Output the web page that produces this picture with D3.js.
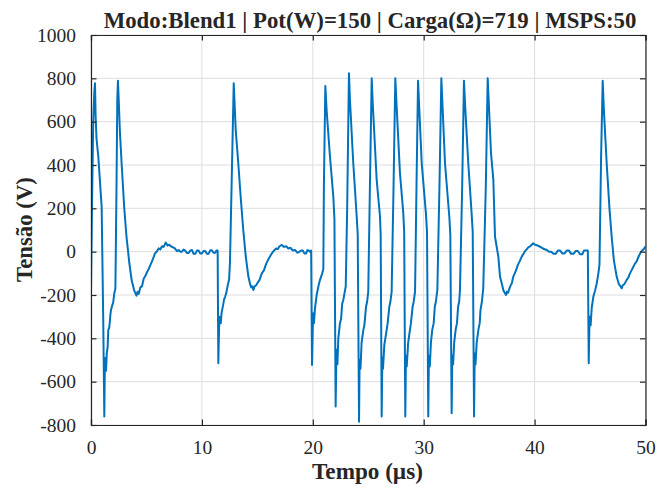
<!DOCTYPE html>
<html><head><meta charset="utf-8">
<script src="https://cdn.jsdelivr.net/npm/d3@7"></script>
<style>
html,body{margin:0;padding:0;background:#fff;}
svg{display:block;}
svg text{font-family:"Liberation Serif","Times New Roman",serif !important;fill:#262626;}
</style>
</head><body>
<svg id="c" width="672" height="489"></svg>
<script>
const titleText = "Modo:Blend1 | Pot(W)=150 | Carga(Ω)=719 | MSPS:50";
const xLabelText = "Tempo (µs)";
const yLabelText = "Tensão (V)";
const xTicks = [0, 10, 20, 30, 40, 50];
const yTicks = [-800, -600, -400, -200, 0, 200, 400, 600, 800, 1000];

const timeUs = [
  0, 0.1, 0.2, 0.3, 0.36, 0.42, 0.5, 0.66, 0.8, 0.96, 1.1, 1.2, 1.25, 1.3, 1.36, 1.42, 1.5, 1.56, 1.65, 1.75, 1.8, 1.9, 2.0, 2.1, 2.2, 2.3, 2.37, 2.43, 2.5, 2.6, 2.76, 3.0, 3.2, 3.45, 3.66, 3.9, 4.1, 4.2, 4.3, 4.45, 4.6, 4.75, 4.87, 5.05, 5.2, 5.35, 5.5, 5.65, 5.77, 5.95, 6.1, 6.25, 6.4, 6.55, 6.67, 6.75, 6.9, 7.05, 7.2, 7.4, 7.57, 7.75, 7.9, 8.05, 8.2, 8.35, 8.47, 8.65, 8.8, 8.95, 9.1, 9.25, 9.4, 9.55, 9.7, 9.85, 10.0, 10.15, 10.3, 10.45, 10.6, 10.75, 10.9, 11.05, 11.2, 11.3, 11.42,
  11.48, 11.55, 11.62, 11.7, 11.78, 11.9, 12.0, 12.1, 12.2, 12.35, 12.45, 12.53, 12.72, 12.87, 13.05, 13.28, 13.5, 13.73, 13.95, 14.19, 14.35, 14.45, 14.55, 14.64, 14.75, 14.9, 15.0, 15.2, 15.4, 15.6, 15.8, 16.05, 16.3, 16.5, 16.7, 16.85, 17.0, 17.2, 17.4, 17.6, 17.8, 18.0, 18.2, 18.4, 18.6, 18.8, 18.95, 19.1, 19.25, 19.4, 19.5, 19.6, 19.75, 19.85,
  19.93, 20.0, 20.05, 20.1, 20.2, 20.35, 20.5, 20.65, 20.85, 20.95, 21.0, 21.13, 21.25, 21.55, 21.85, 21.95,
  22.06, 22.12, 22.15, 22.22, 22.3, 22.45, 22.55, 22.65, 22.75, 22.9, 22.97, 23.1, 23.26, 23.35, 23.65, 23.96, 24.05,
  24.17, 24.22, 24.3, 24.4, 24.56, 24.65, 24.8, 24.9, 25.0, 25.15, 25.31, 25.4, 25.76, 26.06, 26.12,
  26.21, 26.27, 26.33, 26.45, 26.66, 26.75, 26.9, 27.0, 27.11, 27.28, 27.44, 27.55, 27.86, 28.16, 28.24,
  28.34, 28.4, 28.47, 28.6, 28.76, 28.85, 29.0, 29.1, 29.22, 29.35, 29.49, 29.6, 29.82, 30.2, 30.3,
  30.41, 30.47, 30.55, 30.65, 30.77, 30.9, 31.0, 31.1, 31.23, 31.42, 31.59, 31.7, 31.92, 32.31, 32.4,
  32.52, 32.58, 32.65, 32.75, 32.88, 33.0, 33.1, 33.2, 33.27, 33.47, 33.63, 33.75, 34.02, 34.32, 34.42,
  34.54, 34.6, 34.67, 34.78, 34.93, 35.05, 35.12, 35.25, 35.37, 35.6, 35.77, 35.9, 36.07, 36.28, 36.43, 36.73, 36.88, 37.2, 37.42, 37.5, 37.6, 37.8, 37.95, 38.08, 38.3, 38.5, 38.65, 38.84, 39.0, 39.1, 39.3, 39.43, 39.6, 39.7, 39.88, 40.05, 40.2, 40.4, 40.6, 40.85, 41.1, 41.3, 41.5, 41.7, 41.9, 42.1, 42.3, 42.5, 42.7, 42.9, 43.1, 43.3, 43.5, 43.7, 43.9, 44.1, 44.3, 44.45, 44.6, 44.8,
  44.88, 44.95, 45.0, 45.05, 45.15, 45.3, 45.45, 45.6, 45.75, 45.85, 46.0, 46.14, 46.25, 46.5, 46.75, 46.95, 47.15, 47.4, 47.6, 47.75, 47.85, 47.95, 48.1, 48.3, 48.45, 48.6, 48.75, 48.9, 49.05, 49.2, 49.4, 49.6, 49.75, 49.89, 50
];
const voltageV = [
  -180, 250, 600, 740, 777, 620, 520, 438, 330, 208, -300, -761, -520, -491, -550, -470, -440, -361, -350, -290, -270, -250, -235, -192, -170, 300, 700, 789, 700, 560, 408, 200, 69, -50, -130, -180, -203, -185, -195, -165, -160, -125, -115, -95, -80, -62, -45, -25, -8, 2, 15, 10, 25, 22, 35, 42, 28, 32, 25, 20, 15, 2, 8, 0, 0, 10, 6, -6, -6, 5, 8, -10, -10, 5, 5, -8, -8, 3, 3, -10, -10, 6, 6, -5, -5, 5, 5,
  -515, -350, -300, -330, -280, -250, -220, -207, -190, -150, -130, -52, 408, 777, 561, 408, 250, 100, -20, -115, -150, -165, -160, -177, -160, -155, -145, -130, -100, -85, -55, -30, -8, 5, 15, 12, 25, 31, 22, 25, 15, 18, 5, 8, -5, 0, 5, 5, -8, -8, 6, 6, 0, 5,
  -523, -350, -284, -330, -260, -200, -161, -130, -100, -80, 300, 765, 650, 438, 254, 150,
  -715, -500, -453, -520, -400, -330, -310, -240, -223, -180, -161, 200, 823, 700, 408, 161, 80,
  -785, -500, -540, -420, -361, -340, -254, -230, -185, 300, 800, 690, 331, 161, 80,
  -761, -490, -540, -430, -361, -330, -254, -230, -185, 300, 800, 680, 362, 177, 90,
  -761, -480, -530, -420, -361, -330, -254, -230, -185, 300, 789, 660, 408, 177, 90,
  -761, -480, -530, -420, -361, -330, -254, -230, -177, 300, 800, 670, 408, 161, 80,
  -746, -480, -520, -420, -361, -330, -254, -230, -177, 300, 789, 660, 408, 177, 90,
  -761, -470, -520, -420, -361, -330, -270, -230, -170, 300, 800, 650, 454, 331, 69, -23, -115, -180, -200, -185, -190, -160, -145, -115, -90, -60, -45, -23, -10, 0, 12, 20, 25, 30, 39, 32, 30, 25, 20, 12, 8, 0, 0, -10, -10, 5, 5, -8, -8, 5, 5, -10, -10, 3, 3, -12, -12, 5, 5, 5,
  -515, -320, -300, -340, -260, -207, -180, -147, -100, -60, 450, 789, 650, 408, 200, 69, -40, -115, -150, -160, -169, -155, -150, -130, -120, -100, -85, -70, -55, -45, -20, 0, 8, 15, 25
];

const W = 672, H = 489;
const m = {left: 91, right: 672 - 645.5, top: 35, bottom: 489 - 425};
const svg = d3.select("#c");
const x = d3.scaleLinear().domain([0, 50]).range([m.left, W - m.right]);
const y = d3.scaleLinear().domain([-800, 1000]).range([H - m.bottom, m.top]);
const axisColor = "#262626";
const tickLen = 5.5;
const fmt = d => String(d);

// grid
const grid = svg.append("g");
grid.selectAll("line.gx").data(xTicks).join("line")
  .attr("x1", d => x(d)).attr("x2", d => x(d))
  .attr("y1", y(-800)).attr("y2", y(1000))
  .attr("stroke", "#dedede").attr("stroke-width", 1);
grid.selectAll("line.gy").data(yTicks).join("line")
  .attr("y1", d => y(d)).attr("y2", d => y(d))
  .attr("x1", x(0)).attr("x2", x(50))
  .attr("stroke", "#dedede").attr("stroke-width", 1);

svg.append("clipPath").attr("id", "clip").append("rect")
  .attr("x", x(0)).attr("y", y(1000)).attr("width", x(50) - x(0)).attr("height", y(-800) - y(1000));

const pts = timeUs.map((t, i) => [t, voltageV[i]]);
svg.append("path").datum(pts)
  .attr("clip-path", "url(#clip)")
  .attr("fill", "none").attr("stroke", "#0072BD").attr("stroke-width", 2)
  .attr("stroke-linejoin", "round")
  .attr("d", d3.line().x(d => x(d[0])).y(d => y(d[1])));

const fsTick = 19.5;
const fam = '"Liberation Serif","Times New Roman",serif';
const axB = svg.append("g").attr("transform", `translate(0,${y(-800)})`)
  .call(d3.axisBottom(x).tickValues(xTicks).tickSize(-tickLen).tickPadding(tickLen + 10).tickFormat(fmt));
const axT = svg.append("g").attr("transform", `translate(0,${y(1000)})`)
  .call(d3.axisTop(x).tickValues(xTicks).tickSize(-tickLen).tickFormat(""));
const axL = svg.append("g").attr("transform", `translate(${x(0)},0)`)
  .call(d3.axisLeft(y).tickValues(yTicks).tickSize(-tickLen).tickPadding(tickLen + 9.5).tickFormat(fmt));
const axR = svg.append("g").attr("transform", `translate(${x(50)},0)`)
  .call(d3.axisRight(y).tickValues(yTicks).tickSize(-tickLen).tickFormat(""));
[axB, axT, axL, axR].forEach(g => {
  g.attr("font-family", fam).attr("font-size", fsTick);
  g.selectAll(".domain").attr("stroke", axisColor).attr("stroke-width", 1.2);
  g.selectAll(".tick line").attr("stroke", axisColor).attr("stroke-width", 1.2);
  g.selectAll(".tick text").attr("fill", axisColor).attr("font-family", fam)
    .style("font-size", fsTick + "px");
});
axB.selectAll(".tick text").attr("dy", "0.71em");

function fit(sel, target) {
  const w = sel.node().getComputedTextLength();
  const fs = parseFloat(sel.style("font-size"));
  sel.style("font-size", (fs * target / w) + "px");
}

const title = svg.append("text").attr("x", 370).attr("y", 28)
  .attr("text-anchor", "middle").style("font-weight", "bold").style("font-size", "21px")
  .text(titleText);
fit(title, 533);

const xl = svg.append("text").attr("x", 367.5).attr("y", 479)
  .attr("text-anchor", "middle").style("font-weight", "bold").style("font-size", "21px")
  .text(xLabelText);
fit(xl, 111);

const yl = svg.append("text").attr("transform", "translate(31.5,229.5) rotate(-90)")
  .attr("text-anchor", "middle").style("font-weight", "bold").style("font-size", "21px")
  .text(yLabelText);
fit(yl, 105);
</script>
</body></html>
